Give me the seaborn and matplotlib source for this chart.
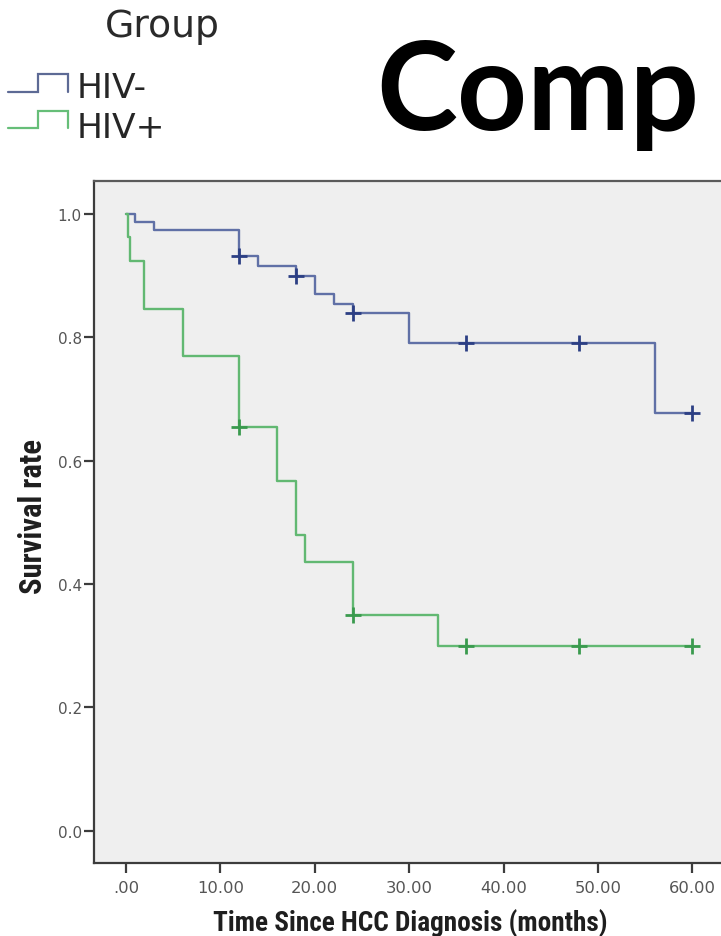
import matplotlib
matplotlib.use("Agg")
import matplotlib.pyplot as plt
from matplotlib import font_manager
import numpy as np
import pandas as pd
import seaborn as sns

# Kaplan-Meier survival estimates (months since HCC diagnosis, survival proportion)
hiv_neg_time = [0.0, 0.95, 3.0, 12.0, 14.0, 18.0, 20.0, 22.0, 24.0, 30.0, 56.0, 60.0]
hiv_neg_surv = [1.0, 0.987, 0.974, 0.932, 0.915, 0.900, 0.870, 0.854, 0.839, 0.790, 0.677, 0.677]
hiv_neg_cens_time = [12.0, 18.0, 24.0, 36.0, 48.0, 60.0]
hiv_neg_cens_surv = [0.932, 0.900, 0.839, 0.790, 0.790, 0.677]

hiv_pos_time = [0.0, 0.2, 0.45, 1.95, 6.0, 12.0, 16.0, 18.0, 19.0, 24.0, 33.0, 60.0]
hiv_pos_surv = [1.0, 0.962, 0.923, 0.846, 0.769, 0.654, 0.567, 0.479, 0.435, 0.350, 0.300, 0.300]
hiv_pos_cens_time = [12.0, 24.0, 36.0, 48.0, 60.0]
hiv_pos_cens_surv = [0.654, 0.350, 0.300, 0.300, 0.300]

groups = ["HIV-", "HIV+"]
x_ticks = [0, 10, 20, 30, 40, 50, 60]
x_tick_labels = [".00", "10.00", "20.00", "30.00", "40.00", "50.00", "60.00"]
y_ticks = [0.0, 0.2, 0.4, 0.6, 0.8, 1.0]
y_tick_labels = ["0.0", "0.2", "0.4", "0.6", "0.8", "1.0"]

line_colors = {"HIV-": "#6070a6", "HIV+": "#62b872"}
cens_colors = {"HIV-": "#2c3f84", "HIV+": "#3a9a4e"}

curves = pd.concat([
    pd.DataFrame({"time": hiv_neg_time, "survival": hiv_neg_surv, "group": groups[0]}),
    pd.DataFrame({"time": hiv_pos_time, "survival": hiv_pos_surv, "group": groups[1]}),
], ignore_index=True)
censored = pd.concat([
    pd.DataFrame({"time": hiv_neg_cens_time, "survival": hiv_neg_cens_surv, "group": groups[0]}),
    pd.DataFrame({"time": hiv_pos_cens_time, "survival": hiv_pos_cens_surv, "group": groups[1]}),
], ignore_index=True)

sns.set_style("white")

names = {f.name for f in font_manager.fontManager.ttflist}
if "Liberation Sans Narrow" in names:
    label_family = "Liberation Sans Narrow"
elif "Roboto Condensed" in names:
    label_family = "Roboto Condensed"
else:
    label_family = "Roboto"
title_family = "Lato" if "Lato" in names else "DejaVu Sans"

W, H = 721, 937
fig = plt.figure(figsize=(W / 100, H / 100), dpi=100)
fig.patch.set_facecolor("white")

# plot frame in pixel units
ax_l, ax_r, ax_t, ax_b = 94.3, 724.0, 182.0, 864.0
ax = fig.add_axes([ax_l / W, 1 - ax_b / H, (ax_r - ax_l) / W, (ax_b - ax_t) / H])
ax.set_facecolor("#efefef")

for g in groups:
    sub = curves[curves["group"] == g]
    sns.lineplot(data=sub, x="time", y="survival", color=line_colors[g],
                 drawstyle="steps-post", estimator=None, sort=False,
                 linewidth=1.7, ax=ax, legend=False)
    csub = censored[censored["group"] == g]
    sns.scatterplot(data=csub, x="time", y="survival", marker="+", s=130,
                    color=cens_colors[g], linewidth=2.0, ax=ax, legend=False,
                    zorder=5)

ax.set_xlim(-3.36, 63.35)
ax.set_ylim(-0.0524, 1.0535)
ax.set_xticks(x_ticks)
ax.set_xticklabels(x_tick_labels)
ax.set_yticks(y_ticks)
ax.set_yticklabels(y_tick_labels)
ax.set_xlabel("")
ax.set_ylabel("")

for side in ["left", "bottom", "top", "right"]:
    ax.spines[side].set_visible(True)
    ax.spines[side].set_color("#3c3c3c")
    ax.spines[side].set_linewidth(1.6)
ax.spines["top"].set_color("#5a5a5a")

ax.tick_params(axis="x", direction="out", length=7.5, width=1.6, color="#3c3c3c",
               pad=4.5, labelsize=11.8, labelcolor="#555555", bottom=True)
ax.tick_params(axis="y", direction="out", length=7.5, width=1.6, color="#3c3c3c",
               pad=1.5, labelsize=11.0, labelcolor="#555555", left=True)
for lab in ax.get_xticklabels() + ax.get_yticklabels():
    lab.set_family("DejaVu Sans")

renderer = fig.canvas.get_renderer()


def fit_width(text, target):
    w = text.get_window_extent(renderer=renderer).width
    text.set_fontsize(text.get_fontsize() * target / w)


def fit_height(text, target):
    h = text.get_window_extent(renderer=renderer).height
    text.set_fontsize(text.get_fontsize() * target / h)


# axis titles
xlab = fig.text(410.5 / W, 1 - 924 / H, "Time Since HCC Diagnosis (months)",
                ha="center", va="center", family=label_family, weight="bold",
                color="#1e1e1e", fontsize=18)
fit_width(xlab, 395)
ylab = fig.text(33 / W, 1 - 517 / H, "Survival rate", rotation=90,
                ha="center", va="center", family=label_family, weight="bold",
                color="#1e1e1e", fontsize=18)
fit_height(ylab, 155)

# overlay in pixel coordinates for the group key and heading
ov = fig.add_axes([0, 0, 1, 1], zorder=-1)
ov.set_xlim(0, W)
ov.set_ylim(H, 0)
ov.axis("off")

grp = ov.text(162, 37, "Group", ha="center", va="baseline", family="DejaVu Sans",
              color="#2a2a2a", fontsize=26)
fit_width(grp, 115)

key_colors = {"HIV-": "#5d6a95", "HIV+": "#66be78"}
key_rows = {"HIV-": (93, 75, 98), "HIV+": (129, 112, 138)}
for g in groups:
    lo, hi, base = key_rows[g]
    ov.plot([8, 38, 38, 68, 68], [lo, lo, hi, hi, lo], color=key_colors[g],
            linewidth=1.6, solid_joinstyle="miter")
    t = ov.text(77, base, g, ha="left", va="baseline", family="DejaVu Sans",
                color="#262626", fontsize=24)
    if g == "HIV-":
        fit_width(t, 70)
        key_size = t.get_fontsize()
    else:
        t.set_fontsize(key_size)

title = ov.text(376, 130, "Comp", ha="left", va="baseline",
                family=[title_family, "DejaVu Sans"], weight="bold", color="black",
                fontsize=88)
# keep the heading inside the canvas
tw = title.get_window_extent(renderer=renderer)
if tw.x1 > W - 2:
    title.set_fontsize(title.get_fontsize() * (W - 2 - tw.x0) / tw.width)

fig.savefig("out.png", dpi=100, facecolor="white")
